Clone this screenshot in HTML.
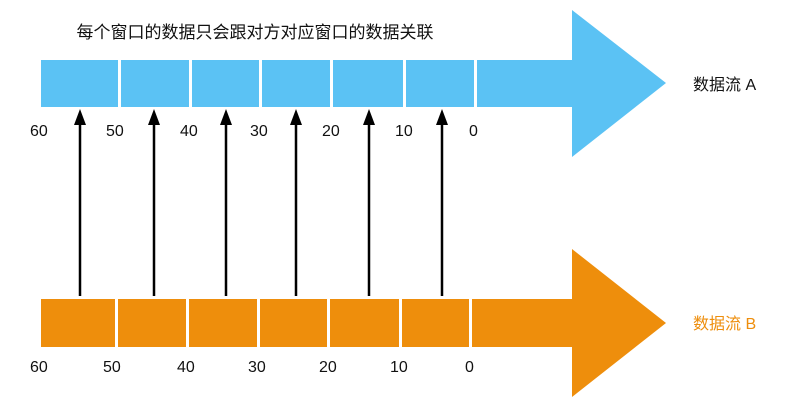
<!DOCTYPE html>
<html><head><meta charset="utf-8"><style>
html,body{margin:0;padding:0;background:#fff;}
svg text{font-family:"Liberation Sans","Noto Sans CJK SC",sans-serif;}
</style></head><body>
<svg width="800" height="408" viewBox="0 0 800 408" xmlns="http://www.w3.org/2000/svg">
<text x="255" y="38" font-size="17" text-anchor="middle" fill="#111">每个窗口的数据只会跟对方对应窗口的数据关联</text>
<!-- blue -->
<polygon points="41,60 572,60 572,10 666,83 572,157 572,107 41,107" fill="#5BC2F4"/>
<g fill="#fff">
<rect x="118" y="60" width="3" height="47"/><rect x="189" y="60" width="3" height="47"/><rect x="259" y="60" width="3" height="47"/><rect x="330" y="60" width="3" height="47"/><rect x="403" y="60" width="3" height="47"/><rect x="474" y="60" width="3" height="47"/>
</g>
<!-- orange -->
<polygon points="41,299 572,299 572,249 666,323 572,397 572,347 41,347" fill="#EE8E0C"/>
<g fill="#fff">
<rect x="115" y="299" width="3" height="48"/><rect x="186" y="299" width="3" height="48"/><rect x="257" y="299" width="3" height="48"/><rect x="327" y="299" width="3" height="48"/><rect x="399" y="299" width="3" height="48"/><rect x="469" y="299" width="3" height="48"/>
</g>
<g stroke="#000" stroke-width="2.5">
<line x1="80" y1="296" x2="80" y2="122"/>
<line x1="154" y1="296" x2="154" y2="122"/>
<line x1="226" y1="296" x2="226" y2="122"/>
<line x1="296" y1="296" x2="296" y2="122"/>
<line x1="369" y1="296" x2="369" y2="122"/>
<line x1="442" y1="296" x2="442" y2="122"/>
</g>
<g fill="#000">
<polygon points="80,109 74,125 86,125"/>
<polygon points="154,109 148,125 160,125"/>
<polygon points="226,109 220,125 232,125"/>
<polygon points="296,109 290,125 302,125"/>
<polygon points="369,109 363,125 375,125"/>
<polygon points="442,109 436,125 448,125"/>
</g>
<g font-size="16" fill="#111">
<text x="30" y="136">60</text><text x="106" y="136">50</text><text x="180" y="136">40</text><text x="250" y="136">30</text><text x="322" y="136">20</text><text x="395" y="136">10</text><text x="469" y="136">0</text>
<text x="30" y="372">60</text><text x="103" y="372">50</text><text x="177" y="372">40</text><text x="248" y="372">30</text><text x="319" y="372">20</text><text x="390" y="372">10</text><text x="465" y="372">0</text>
</g>
<text x="693" y="90" font-size="16" fill="#111">数据流 A</text>
<text x="693" y="329" font-size="16" fill="#EE8E0C">数据流 B</text>
</svg>
</body></html>
